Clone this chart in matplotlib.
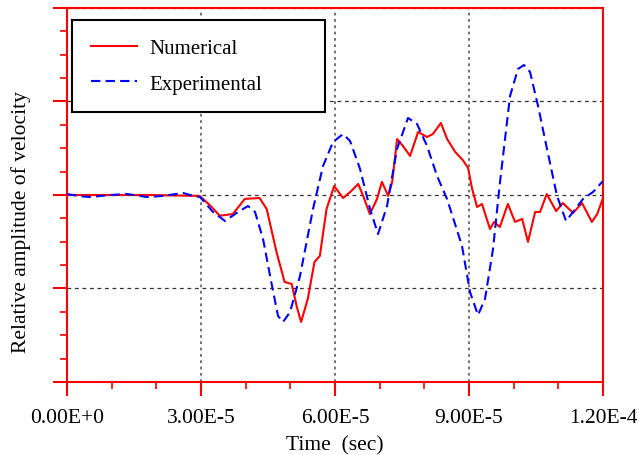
import numpy as np
import matplotlib
matplotlib.use("Agg")
import matplotlib.pyplot as plt
from matplotlib.ticker import MultipleLocator, FixedLocator

plt.rcParams['font.family'] = ['Liberation Serif', 'DejaVu Serif']

# Time in microseconds, amplitude relative
num_t_us = [0, 7.39, 18.58, 25.3, 29.7, 32.0, 34.2, 37.1, 38.5, 39.8, 43.1, 44.7, 46.9, 48.7, 50.3,
            51.4, 52.4, 53.9, 55.4, 56.6, 58.1, 59.8, 61.8, 63.4, 65.2, 66.3, 67.8, 69.4,
            70.5, 71.9, 72.8, 73.9, 75.2, 76.8, 78.6, 80.6, 81.9, 83.7, 85.1, 86.9, 88.6,
            89.8, 90.7, 91.8, 92.9, 94.7, 95.6, 96.9, 98.7, 100.3, 101.9, 103.2, 104.8,
            105.9, 107.4, 109.5, 111.0, 113.3, 115.3, 117.5, 118.7, 120.0]
num_amp = [0, 0, 0, -0.003, -0.005, -0.055, -0.111, -0.102, -0.060, -0.021, -0.016, -0.075, -0.305, -0.465,
           -0.476, -0.594, -0.679, -0.556, -0.358, -0.326, -0.075, 0.048, -0.016, 0.016,
           0.059, -0.005, -0.102, -0.021, 0.070, -0.005, 0.070, 0.299, 0.262, 0.209, 0.337,
           0.310, 0.326, 0.385, 0.299, 0.230, 0.187, 0.144, 0.032, -0.064, -0.048, -0.182,
           -0.144, -0.171, -0.048, -0.144, -0.128, -0.251, -0.091, -0.091, 0.005, -0.086,
           -0.043, -0.096, -0.043, -0.144, -0.102, -0.016]

exp_t_us = [0, 2.46, 5.15, 9.63, 13.43, 17.91, 21.49, 25.97, 28.21, 29.78, 32.69, 35.37,
            38.28, 40.52, 42.09, 43.88, 45.90, 47.24, 48.36, 49.93, 52.16, 55.07, 57.31,
            59.55, 61.79, 63.36, 65.60, 67.84, 69.63, 71.64, 73.88, 76.34, 78.36, 80.60,
            82.84, 85.07, 86.87, 88.43, 90.22, 92.01, 93.58, 95.37, 96.94, 99.18, 100.97,
            102.31, 103.66, 105.45, 107.46, 109.70, 111.72, 113.28, 115.52, 117.76, 120.0]
exp_amp = [0.005, -0.005, -0.011, 0, 0.005, -0.011, -0.005, 0.011, -0.005, -0.011, -0.091,
           -0.139, -0.091, -0.059, -0.091, -0.235, -0.487, -0.647, -0.679, -0.626, -0.433,
           -0.075, 0.155, 0.283, 0.326, 0.289, 0.139, -0.075, -0.209, -0.059, 0.246, 0.412,
           0.380, 0.262, 0.102, -0.021, -0.155, -0.273, -0.519, -0.642, -0.556, -0.289,
           0.070, 0.529, 0.674, 0.695, 0.658, 0.476, 0.246, -0.005, -0.139, -0.091, -0.021,
           0.016, 0.075]

x_ticks = [0, 3e-5, 6e-5, 9e-5, 1.2e-4]
x_tick_labels = ["0.00E+0", "3.00E-5", "6.00E-5", "9.00E-5", "1.20E-4"]
y_ticks = [-1, -0.5, 0, 0.5, 1]

fig = plt.figure(figsize=(6.39, 4.56), dpi=100)
ax = fig.add_axes([0.1049, 0.1601, 0.8388, 0.8202])

t_num = np.array(num_t_us) * 1e-6
t_exp = np.array(exp_t_us) * 1e-6
ax.plot(t_num, num_amp, color='#ff0000', lw=1.5, label='Numerical', zorder=3)
ax.plot(t_exp, exp_amp, color='#0000ff', lw=1.5, linestyle=(0, (4.5, 2.5)),
        label='Experimental', zorder=3)

ax.set_xlim(0, 1.2e-4)
ax.set_ylim(-1, 1)
ax.xaxis.set_major_locator(FixedLocator(x_ticks))
ax.set_xticklabels(x_tick_labels)
ax.xaxis.set_minor_locator(MultipleLocator(1e-5))
ax.yaxis.set_major_locator(FixedLocator(y_ticks))
ax.yaxis.set_minor_locator(MultipleLocator(0.125))
ax.set_yticklabels([])

for s in ax.spines.values():
    s.set_color('#ff0000')
    s.set_linewidth(1.5)

ax.tick_params(axis='both', which='major', direction='out', length=10, width=1.5,
               color='#ff0000', labelsize=15.5, pad=8.5)
ax.tick_params(axis='both', which='minor', direction='out', length=5, width=1.2,
               color='#ff0000')

ax.xaxis.grid(True, which='major', color='#666666', linestyle=(0, (1.5, 2)), lw=1.3)
ax.yaxis.grid(True, which='major', color='#333333', linestyle=(0, (3, 3)), lw=0.9)
ax.set_axisbelow(True)

ax.set_xlabel("Time  (sec)", fontsize=15.5, labelpad=6)
ax.set_ylabel("Relative amplitude of velocity", fontsize=15.5)
ax.yaxis.set_label_coords(-0.067, 0.43)

x0 = (72 - 67) / 536
x1 = (325 - 67) / 536
y1 = (383 - 21) / 374
y0 = (383 - 113) / 374
leg = ax.legend(loc='upper left', bbox_to_anchor=(x0, y0, x1 - x0, y1 - y0), mode='expand',
                fontsize=15, fancybox=False, framealpha=1, edgecolor='black',
                handlelength=2.2, borderpad=0.9, labelspacing=0.75, handletextpad=0.63,
                borderaxespad=0)
leg.get_frame().set_linewidth(1.5)
leg.set_zorder(5)
fig.savefig("out.png", dpi=100)
